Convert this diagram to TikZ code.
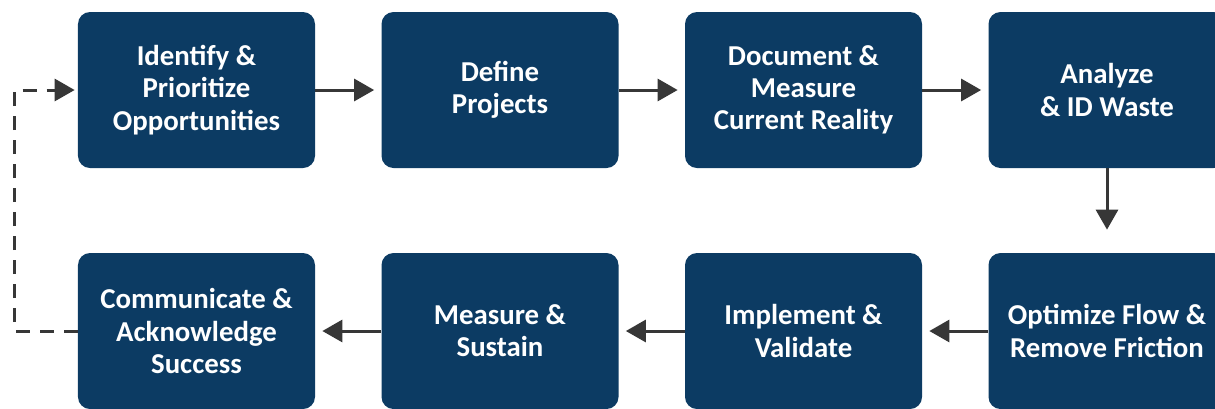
\documentclass[tikz,border=0pt]{standalone}
\usepackage{fontspec}
\setmainfont{Carlito}
\usepackage{tikz}
\usetikzlibrary{arrows.meta}
\usetikzlibrary{positioning,calc}
\definecolor{boxblue}{RGB}{12,59,99}
\definecolor{arrowgray}{RGB}{55,55,55}

\begin{document}
\begin{tikzpicture}[node distance=6.07cm]
	%defines
	\tikzstyle{stepbox} = [rectangle, rounded corners=0.24cm, minimum width=4.74cm, minimum height=3.12cm, text centered, align=center, fill=boxblue, draw=none, text=white, font=\fontsize{16.4}{18.3}\selectfont\bfseries]
	\tikzstyle{arrow} = [draw=arrowgray, line width=0.06cm, -{Triangle[length=0.4cm,width=0.44cm]}, shorten >=0.14cm]
	\tikzstyle{downarrow} = [draw=arrowgray, line width=0.06cm, -{Triangle[length=0.4cm,width=0.44cm]}, shorten >=0.46cm]
	\tikzstyle{dasharrow} = [draw=arrowgray, line width=0.06cm, dash pattern=on 0.28cm off 0.2cm, -{Triangle[length=0.4cm,width=0.44cm]}, shorten >=0.06cm]
	\useasboundingbox (-3.93,-6.36) rectangle (20.37,1.8);
	%chart
	\node (identify) [stepbox] {Identify \&\\Prioritize\\Opportunities};
	\node (defineProj) [stepbox, right of=identify] {Define\\Projects};
	\node (documentReality) [stepbox, right of=defineProj] {Document \&\\Measure\\Current Reality};
	\node (analyzeWaste) [stepbox, right of=documentReality] {Analyze\\\& ID Waste};
	\node (optimizeFlow) [stepbox, below of=analyzeWaste, node distance=4.82cm] {Optimize Flow \&\\Remove Friction};
	\node (implement) [stepbox, left of=optimizeFlow] {Implement \&\\Validate};
	\node (measureSustain) [stepbox, left of=implement] {Measure \&\\Sustain};
	\node (communicate) [stepbox, left of=measureSustain] {Communicate \&\\Acknowledge\\Success};
	\draw [arrow] (identify) -- (defineProj);
	\draw [arrow] (defineProj) -- (documentReality);
	\draw [arrow] (documentReality) -- (analyzeWaste);
	\draw [downarrow] (analyzeWaste) -- (optimizeFlow);
	\draw [arrow] (optimizeFlow) -- (implement);
	\draw [arrow] (implement) -- (measureSustain);
	\draw [arrow] (measureSustain) -- (communicate);
	\draw [dasharrow] (communicate.west) -- ++(-1.26cm,0) |- (identify.west);
\end{tikzpicture}
\end{document}
